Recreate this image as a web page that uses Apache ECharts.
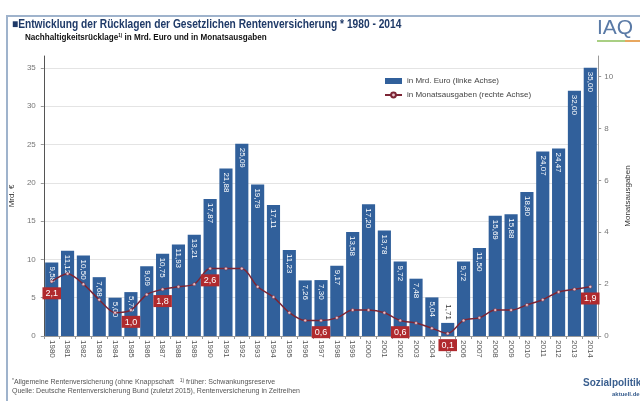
<!DOCTYPE html>
<html><head><meta charset="utf-8">
<script src="https://cdn.jsdelivr.net/npm/echarts@6/dist/echarts.min.js"></script>
<style>html,body{margin:0;padding:0;background:#fff}#c{width:640px;height:401px}</style>
</head><body><div id="c"></div>
<script>
var years = ['1980','1981','1982','1983','1984','1985','1986','1987','1988','1989','1990','1991','1992','1993','1994','1995','1996','1997','1998','1999','2000','2001','2002','2003','2004','2005','2006','2007','2008','2009','2010','2011','2012','2013','2014'];
var mrdEuro = [9.58,11.12,10.50,7.68,5.00,5.73,9.09,10.75,11.93,13.21,17.87,21.88,25.09,19.79,17.11,11.23,7.26,7.30,9.17,13.58,17.20,13.78,9.72,7.48,5.04,1.71,9.72,11.50,15.69,15.88,18.80,24.07,24.47,32.00,35.00];
var monatsausgaben = [2.1,2.4,2.0,1.4,0.9,1.0,1.6,1.8,1.9,2.0,2.6,2.6,2.6,1.9,1.5,0.9,0.6,0.6,0.7,1.0,1.0,0.9,0.6,0.5,0.3,0.1,0.6,0.7,1.0,1.0,1.2,1.4,1.7,1.8,1.9];
var labeledYears = ['1980','1985','1987','1990','1997','2002','2005','2014'];
var leftTicks = [0,5,10,15,20,25,30,35];
var rightTicks = [0,2,4,6,8,10];
var seriesNames = ['in Mrd. Euro (linke Achse)','in Monatsausgaben (rechte Achse)'];

function de(v, d){ return v.toFixed(d).replace('.', ','); }

var chart = echarts.init(document.getElementById('c'), null, {renderer:'canvas'});
var FONT = 'Liberation Sans, Arial, sans-serif';

var barData = mrdEuro.map(function(v){
  if (v < 3) {
    return {value:v, label:{position:'top', align:'right', color:'#333', distance:3}};
  }
  return {value:v};
});
var lineData = monatsausgaben.map(function(v,i){
  if (labeledYears.indexOf(years[i]) >= 0) return {value:v, label:{show:true}};
  return {value:v};
});

chart.setOption({
  animation:false,
  textStyle:{fontFamily:FONT},
  graphic:[
    {type:'rect', shape:{x:7,y:16,width:700,height:500}, style:{fill:'none', stroke:'#9fb3cc', lineWidth:2}, z:-1},
    {type:'text', left:12, top:19, style:{text:'\u25A0Entwicklung der R\u00fccklagen der Gesetzlichen Rentenversicherung * 1980 - 2014', font:'bold 12px '+FONT, fill:'#1f3a68'}, scaleX:0.85},
    {type:'text', left:25, top:33, style:{
      text:'Nachhaltigkeitsr\u00fccklage{s|1)} in Mrd. Euro und in Monatsausgaben',
      font:'bold 9px '+FONT, fill:'#111',
      rich:{s:{fontSize:5, fontWeight:'bold', fontFamily:FONT, fill:'#111', verticalAlign:'top', padding:[0,0,4,0]}}}, scaleX:0.9},
    {type:'text', left:597, top:18, style:{text:'IAQ', font:'21px '+FONT, fill:'#5a7aa6'}},
    {type:'line', shape:{x1:597,y1:41,x2:625,y2:41}, style:{stroke:'#8cbf5a', lineWidth:1.5}},
    {type:'line', shape:{x1:625,y1:41,x2:640,y2:41}, style:{stroke:'#e08a2a', lineWidth:1.5}},
    {type:'text', left:12, top:378, style:{
      text:'{s|*}Allgemeine Rentenversicherung (ohne Knappschaft   {s|1)} fr\u00fcher: Schwankungsreserve',
      font:'7px '+FONT, fill:'#555',
      rich:{s:{fontSize:5, fontFamily:FONT, fill:'#555', padding:[0,0,3,0]}}}},
    {type:'text', left:12, top:388, style:{text:'Quelle: Deutsche Rentenversicherung Bund (zuletzt 2015), Rentenversicherung in Zeitreihen', font:'7px '+FONT, fill:'#555'}},
    {type:'text', left:583, top:378, style:{text:'Sozialpolitik', font:'bold 10px '+FONT, fill:'#3a5f8f'}},
    {type:'text', left:612, top:391, style:{text:'aktuell.de', font:'bold 6px '+FONT, fill:'#3a5f8f'}}
  ],
  legend:{
    orient:'vertical', left:379, top:72, itemGap:6, itemWidth:17, itemHeight:6,
    textStyle:{fontSize:8, color:'#444'},
    data:[{name:seriesNames[0], icon:'rect'},{name:seriesNames[1]}]
  },
  grid:{left:40, right:24, top:56, bottom:65},
  xAxis:{
    type:'category', data:years,
    axisLine:{lineStyle:{color:'#999'}},
    axisTick:{show:true, length:3, lineStyle:{color:'#999'}},
    axisLabel:{rotate:-90, fontSize:8, color:'#555', margin:4, interval:0}
  },
  yAxis:[
    {type:'value', min:0, max:36.55, interval:5,
     name:'Mrd. \u20ac', nameLocation:'middle', nameGap:24, nameTextStyle:{fontSize:8, color:'#333'},
     axisLine:{show:true, lineStyle:{color:'#555'}},
     axisTick:{show:true, length:3, lineStyle:{color:'#999'}},
     axisLabel:{fontSize:8, color:'#777', margin:8, showMaxLabel:false,
       formatter:function(v){ return leftTicks.indexOf(v)>=0 ? String(v) : ''; }},
     splitLine:{show:true, showMaxLine:false, lineStyle:{color:'#e4e4e4'}}},
    {type:'value', min:0, max:10.8, interval:2,
     name:'Monatsausgaben', nameLocation:'middle', nameGap:19, nameTextStyle:{fontSize:8, color:'#333'},
     axisLine:{show:true, lineStyle:{color:'#999'}},
     axisTick:{show:true, length:3, lineStyle:{color:'#999'}},
     axisLabel:{fontSize:8, color:'#777', margin:6, showMaxLabel:false,
       formatter:function(v){ return rightTicks.indexOf(v)>=0 ? String(v) : ''; }},
     splitLine:{show:false}}
  ],
  series:[
    {name:seriesNames[0], type:'bar', data:barData, barCategoryGap:'17%',
     itemStyle:{color:'#31609b'},
     label:{show:true, position:'insideTop', rotate:-90, align:'left', verticalAlign:'middle', distance:4,
       fontSize:8, color:'#fff', formatter:function(p){ return de(p.value,2); }}},
    {name:seriesNames[1], type:'line', yAxisIndex:1, data:lineData, smooth:0.3,
     symbol:'circle', symbolSize:3, showAllSymbol:true,
     lineStyle:{color:'#7c2535', width:1.5},
     itemStyle:{color:'#e8c4cc', borderColor:'#7c2535', borderWidth:0.5},
     label:{show:false, position:'bottom', distance:4, fontSize:9, color:'#fff',
       backgroundColor:'#b02a2e', padding:[2,3,1,3],
       formatter:function(p){ return de(p.value,1); }},
     z:5}
  ]
});
</script></body></html>
